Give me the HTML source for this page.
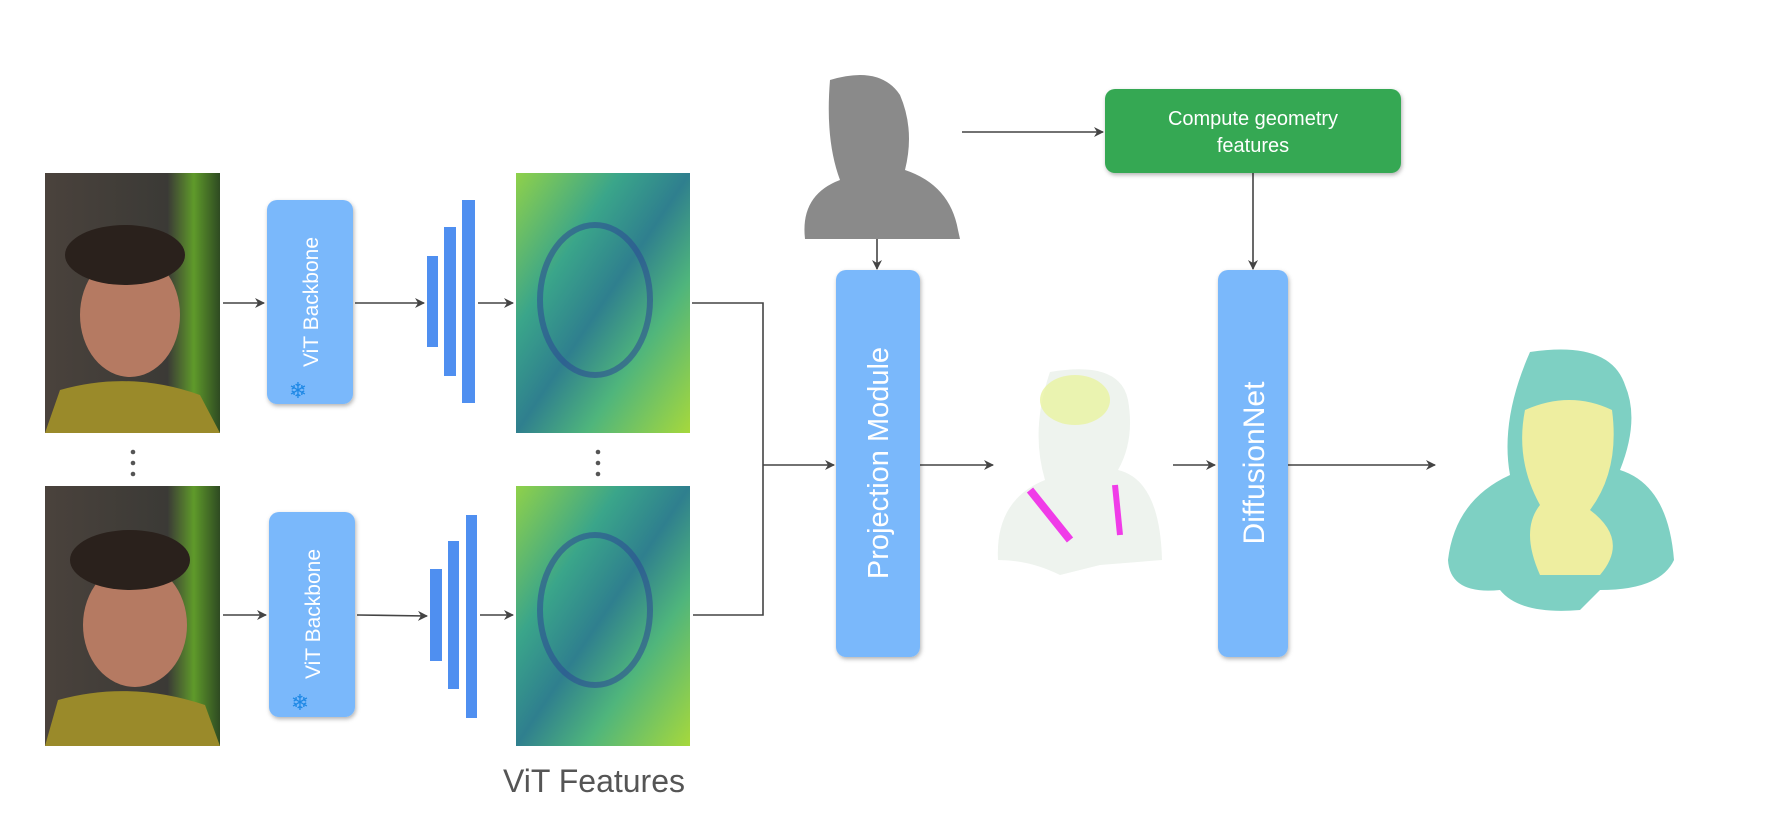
<!DOCTYPE html>
<html><head><style>
html,body{margin:0;padding:0;background:#fff;}
svg{display:block;font-family:"Liberation Sans",sans-serif;}
</style></head><body>
<svg width="1777" height="820" viewBox="0 0 1777 820" xmlns="http://www.w3.org/2000/svg">
<defs>
<marker id="a" markerWidth="10" markerHeight="10" refX="9" refY="5" orient="auto" markerUnits="userSpaceOnUse">
<path d="M0,0 L10,5 L0,10 L3,5 z" fill="#444"/></marker>
<linearGradient id="fm" x1="0" y1="0" x2="1" y2="1">
<stop offset="0" stop-color="#8fd14a"/><stop offset="0.3" stop-color="#3aa58a"/><stop offset="0.5" stop-color="#2f7f8e"/><stop offset="0.7" stop-color="#4fb57c"/><stop offset="1" stop-color="#a6d83c"/></linearGradient>
<linearGradient id="ph" x1="0" y1="0" x2="1" y2="0">
<stop offset="0" stop-color="#4a423c"/><stop offset="0.7" stop-color="#3b3a36"/><stop offset="0.85" stop-color="#5f9a2a"/><stop offset="1" stop-color="#2e4a22"/></linearGradient>
<filter id="sh"><feDropShadow dx="1" dy="2" stdDeviation="2" flood-opacity="0.3"/></filter>
</defs>
<g stroke="#444" stroke-width="1.6" fill="none">
<line x1="223" y1="303" x2="264" y2="303" marker-end="url(#a)"/>
<line x1="355" y1="303" x2="424" y2="303" marker-end="url(#a)"/>
<line x1="478" y1="303" x2="513" y2="303" marker-end="url(#a)"/>
<line x1="223" y1="615" x2="266" y2="615" marker-end="url(#a)"/>
<line x1="357" y1="615" x2="427" y2="616" marker-end="url(#a)"/>
<line x1="480" y1="615" x2="513" y2="615" marker-end="url(#a)"/>
<polyline points="692,303 763,303 763,615 693,615"/>
<line x1="763" y1="465" x2="834" y2="465" marker-end="url(#a)"/>
<line x1="920" y1="465" x2="993" y2="465" marker-end="url(#a)"/>
<line x1="1173" y1="465" x2="1215" y2="465" marker-end="url(#a)"/>
<line x1="1288" y1="465" x2="1435" y2="465" marker-end="url(#a)"/>
<line x1="962" y1="132" x2="1103" y2="132" marker-end="url(#a)"/>
<line x1="1253" y1="173" x2="1253" y2="269" marker-end="url(#a)"/>
<line x1="877" y1="239" x2="877" y2="269" marker-end="url(#a)"/>
</g>
<!-- photos -->
<rect x="45" y="173" width="175" height="260" fill="url(#ph)"/>
<ellipse cx="130" cy="315" rx="50" ry="62" fill="#b57a62"/>
<ellipse cx="125" cy="255" rx="60" ry="30" fill="#2a211c"/>
<path d="M45,433 L60,390 Q130,370 200,395 L220,433 z" fill="#9a8a2a"/>
<rect x="45" y="486" width="175" height="260" fill="url(#ph)"/>
<ellipse cx="135" cy="625" rx="52" ry="62" fill="#b57a62"/>
<ellipse cx="130" cy="560" rx="60" ry="30" fill="#2a211c"/>
<path d="M45,746 L58,700 Q130,680 205,705 L220,746 z" fill="#9a8a2a"/>
<g fill="#555"><circle cx="133" cy="452" r="2.3"/><circle cx="133" cy="463" r="2.3"/><circle cx="133" cy="474" r="2.3"/>
<circle cx="598" cy="452" r="2.3"/><circle cx="598" cy="463" r="2.3"/><circle cx="598" cy="474" r="2.3"/></g>
<!-- ViT boxes -->
<rect x="267" y="200" width="86" height="204" rx="10" fill="#7ab8fb" filter="url(#sh)"/>
<text transform="translate(318,302) rotate(-90)" text-anchor="middle" font-size="21" fill="#fff">ViT Backbone</text>
<text x="298" y="398" font-size="22" fill="#1e88e5" text-anchor="middle">❄</text>
<rect x="269" y="512" width="86" height="205" rx="10" fill="#7ab8fb" filter="url(#sh)"/>
<text transform="translate(320,614) rotate(-90)" text-anchor="middle" font-size="21" fill="#fff">ViT Backbone</text>
<text x="300" y="710" font-size="22" fill="#1e88e5" text-anchor="middle">❄</text>
<!-- bars -->
<g fill="#4f8ff0">
<rect x="427" y="256" width="11" height="91"/><rect x="444" y="227" width="12" height="149"/><rect x="462" y="200" width="13" height="203"/>
<rect x="430" y="569" width="12" height="92"/><rect x="448" y="541" width="11" height="148"/><rect x="466" y="515" width="11" height="203"/>
</g>
<!-- feature maps -->
<rect x="516" y="173" width="174" height="260" fill="url(#fm)"/>
<ellipse cx="595" cy="300" rx="55" ry="75" fill="none" stroke="#2d4f93" stroke-width="6" opacity="0.6"/>
<rect x="516" y="486" width="174" height="260" fill="url(#fm)"/>
<ellipse cx="595" cy="610" rx="55" ry="75" fill="none" stroke="#2d4f93" stroke-width="6" opacity="0.6"/>
<text x="594" y="792" text-anchor="middle" font-size="32" fill="#555">ViT Features</text>
<!-- grey bust -->
<path d="M830,80 Q880,65 900,95 Q915,130 905,170 Q950,185 958,230 L960,239 L805,239 Q800,195 840,180 Q825,140 830,80 z" fill="#8a8a8a"/>
<!-- green box -->
<rect x="1105" y="89" width="296" height="84" rx="10" fill="#34a853" filter="url(#sh)"/>
<text x="1253" y="125" text-anchor="middle" font-size="20" fill="#fff">Compute geometry</text>
<text x="1253" y="152" text-anchor="middle" font-size="20" fill="#fff">features</text>
<!-- blue modules -->
<rect x="836" y="270" width="84" height="387" rx="10" fill="#7ab8fb" filter="url(#sh)"/>
<text transform="translate(888,463) rotate(-90)" text-anchor="middle" font-size="29" fill="#fff">Projection Module</text>
<rect x="1218" y="270" width="70" height="387" rx="10" fill="#7ab8fb" filter="url(#sh)"/>
<text transform="translate(1264,463) rotate(-90)" text-anchor="middle" font-size="30" fill="#fff">DiffusionNet</text>
<!-- colored bust -->
<path d="M1050,372 Q1120,360 1128,400 Q1135,440 1118,470 Q1160,480 1162,560 L1100,565 L1060,575 Q1030,560 998,560 Q995,500 1045,480 Q1030,430 1050,372 z" fill="#eef3ee"/>
<ellipse cx="1075" cy="400" rx="35" ry="25" fill="#e8f2a0" opacity="0.8"/>
<path d="M1030,490 L1070,540" stroke="#f03ce8" stroke-width="8"/>
<path d="M1115,485 L1120,535" stroke="#f03ce8" stroke-width="6"/>
<!-- final bust -->
<path d="M1530,352 Q1610,340 1625,385 Q1640,420 1620,470 Q1668,485 1674,560 Q1660,590 1600,590 L1580,610 Q1520,615 1500,590 Q1450,595 1448,560 Q1455,500 1510,475 Q1500,420 1530,352 z" fill="#7ed0c3"/>
<path d="M1525,410 Q1570,390 1612,410 Q1620,470 1590,510 Q1630,540 1600,575 L1540,575 Q1520,530 1540,505 Q1515,460 1525,410 z" fill="#eeeea0"/>
</svg>
</body></html>
